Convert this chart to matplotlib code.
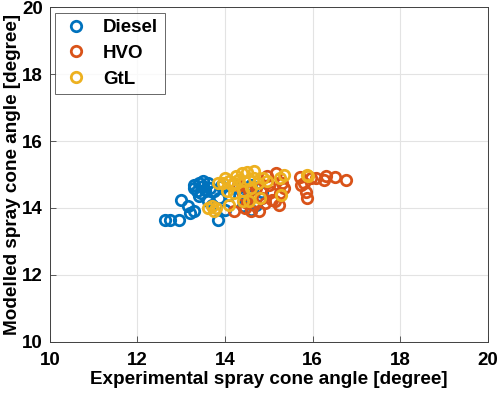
import matplotlib.pyplot as plt
import numpy as np

plt.rcParams['font.family'] = ['Liberation Sans', 'DejaVu Sans']
plt.rcParams['font.weight'] = 'bold'

# Experimental vs modelled spray cone angle [degree]
diesel_x = [12.63, 12.75, 12.95, 13.0, 13.15, 13.3, 13.2, 13.3, 13.4, 13.5, 13.6, 13.35,
            13.45, 13.55, 13.65, 13.75, 13.6, 13.7, 13.84, 14.0, 13.85, 13.4, 13.5, 13.3,
            14.3, 14.5, 14.6, 14.84, 14.7, 14.4, 14.6, 13.9, 14.1]
diesel_y = [13.63, 13.65, 13.63, 14.25, 14.05, 13.9, 13.85, 14.7, 14.75, 14.8, 14.75, 14.5,
            14.45, 14.55, 14.6, 14.5, 14.2, 14.1, 13.64, 13.95, 14.3, 14.35, 14.65, 14.6,
            14.6, 14.3, 14.7, 14.48, 14.1, 14.05, 13.95, 14.65, 14.4]

hvo_x = [14.2, 14.6, 14.78, 15.05, 15.07, 15.22, 15.16, 15.7, 15.73, 15.84, 15.86, 16.07,
         16.25, 16.5, 16.75, 16.3, 15.3, 15.25, 15.35, 14.95, 14.5, 14.4, 14.7, 14.85,
         15.95, 15.0, 14.3, 14.55, 15.8, 14.9, 15.15, 14.45, 14.65]
hvo_y = [13.9, 13.9, 13.9, 14.48, 14.24, 14.1, 15.05, 14.93, 14.7, 14.48, 14.3, 14.9,
         14.84, 14.93, 14.84, 14.95, 14.75, 14.45, 14.6, 14.95, 14.15, 14.4, 14.6, 14.3,
         14.9, 14.7, 14.7, 14.5, 14.75, 14.15, 14.2, 14.0, 14.1]

gtl_x = [13.6, 13.7, 13.8, 13.75, 13.95, 14.1, 14.2, 14.0, 13.84, 14.15, 14.05, 14.2,
         14.38, 14.5, 14.66, 14.66, 14.86, 14.95, 15.25, 15.35, 15.27, 14.55, 15.86, 15.9,
         14.41, 14.75, 14.3, 14.6, 14.4, 14.8, 14.25, 14.55, 14.1]
gtl_y = [14.0, 14.05, 14.0, 13.9, 14.75, 14.8, 14.75, 14.9, 14.75, 14.68, 14.5, 14.45,
         15.05, 15.08, 15.1, 14.9, 14.9, 14.8, 14.9, 15.0, 14.4, 14.2, 15.0, 14.95,
         14.5, 14.75, 14.85, 14.6, 14.2, 14.3, 14.95, 14.85, 14.1]

series = [('Diesel', diesel_x, diesel_y, '#0072BD'),
          ('HVO', hvo_x, hvo_y, '#D95319'),
          ('GtL', gtl_x, gtl_y, '#EDB120')]

fig = plt.figure(figsize=(4.98, 3.98), dpi=100)
ax = fig.add_axes([0.100, 0.141, 0.880, 0.841])

for name, xs, ys, color in series:
    ax.plot(xs, ys, linestyle='none', marker='o', markersize=7.5,
            markerfacecolor='none', markeredgecolor=color, markeredgewidth=2,
            label=name)

ax.set_xlim(10, 20)
ax.set_ylim(10, 20)
ax.set_xticks(np.arange(10, 21, 2))
ax.set_yticks(np.arange(10, 21, 2))
ax.grid(True, color='#e3e3e3', linewidth=0.8)
ax.set_axisbelow(True)
ax.tick_params(direction='in', length=4, width=0.6, colors='#404040',
               labelcolor='black', labelsize=13.5)
ax.tick_params(axis='x', pad=7)
ax.tick_params(axis='y', pad=5)
for s in ax.spines.values():
    s.set_color('#404040')
    s.set_linewidth(0.7)

ax.set_xlabel('Experimental spray cone angle [degree]', fontsize=13.6,
              fontweight='bold', labelpad=2)
ax.set_ylabel('Modelled spray cone angle [degree]', fontsize=13.6,
              fontweight='bold', labelpad=1)

leg = ax.legend(loc='upper left', fontsize=13.5, frameon=True, fancybox=False,
                borderpad=0.35, handletextpad=0.7, labelspacing=0.45,
                handlelength=1.5, borderaxespad=0.3)
leg.get_frame().set_edgecolor('#404040')
leg.get_frame().set_linewidth(0.7)
for t in leg.get_texts():
    t.set_fontweight('bold')

fig.savefig('out.png', dpi=100)
